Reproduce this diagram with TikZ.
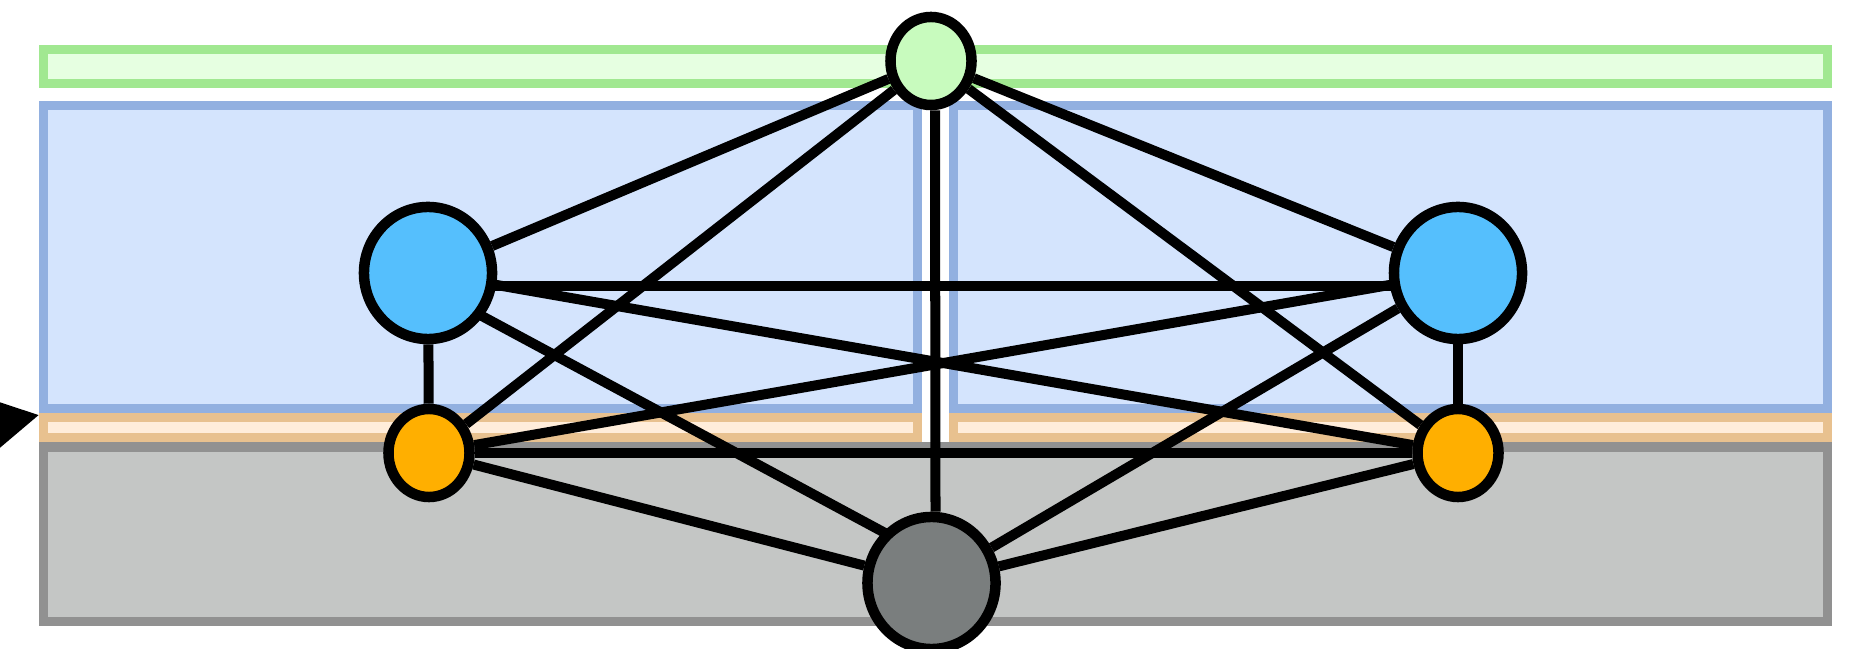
\documentclass[tikz,border=0pt]{standalone}
\usetikzlibrary{arrows.meta, shapes.geometric, backgrounds, calc}
\definecolor{greenline}{HTML}{A1E891}
\definecolor{greenfill}{HTML}{E6FFE1}
\definecolor{blueline}{HTML}{92B0E0}
\definecolor{bluefill}{HTML}{D4E4FD}
\definecolor{orangeline}{HTML}{E8C18F}
\definecolor{orangefill}{HTML}{FFEDDA}
\definecolor{greyline}{HTML}{919191}
\definecolor{greyfill}{HTML}{C4C6C5}
\definecolor{topnode}{HTML}{C8FBBE}
\definecolor{midnode}{HTML}{55BFFD}
\definecolor{lownode}{HTML}{FFAF00}
\definecolor{basenode}{HTML}{7A7E7E}
\pgfdeclarelayer{wires}
\pgfsetlayers{background,wires,main}
\tikzset{
  band/.style      = {line width=0.09cm},
  greenband/.style = {band, draw=greenline, fill=greenfill},
  blueband/.style  = {band, draw=blueline, fill=bluefill},
  orangeband/.style= {band, draw=orangeline, fill=orangefill},
  greyband/.style  = {band, draw=greyline, fill=greyfill},
  vertex/.style    = {ellipse, draw=black, line width=0.105cm, inner sep=0pt},
  bigv/.style      = {vertex, minimum width=1.28cm, minimum height=1.32cm},
  smallv/.style    = {vertex, minimum width=0.81cm, minimum height=0.88cm},
  wire/.style      = {line width=0.1cm, draw=black},
  inflow/.style    = {line width=0.1cm, -{Triangle[length=0.6cm, width=0.64cm]}},
}

\begin{document}
\begin{tikzpicture}[x=0.01cm, y=-0.01cm]
\useasboundingbox (0,0) rectangle (1864,649);

% Nodes: top, two middle, two lower, base
\node (top)  [smallv, fill=topnode]  at (931,61)    {};
\node (midl) [bigv, fill=midnode]    at (428,273)   {};
\node (midr) [bigv, fill=midnode]    at (1458,273)  {};
\node (lowl) [smallv, fill=lownode]  at (429,453)   {};
\node (lowr) [smallv, fill=lownode]  at (1458,453)  {};
\node (base) [bigv, fill=basenode]   at (931.5,583) {};

% Bands behind everything
\begin{pgfonlayer}{background}
  \draw [greenband]  (43.5,49.5) rectangle (1827.5,84);
  \draw [blueband]   (43.5,106) rectangle (917.5,408.5);
  \draw [blueband]   (953.5,106) rectangle (1827.5,408.5);
  \draw [orangeband] (43.5,417.5) rectangle (917.5,438);
  \draw [orangeband] (953.5,417.5) rectangle (1827.5,438);
  \draw [greyband]   (43.5,447) rectangle (1827.5,621.5);
\end{pgfonlayer}

% Connectors
\begin{pgfonlayer}{wires}
  \draw [wire] (top) -- (midl);
  \draw [wire] (top) -- (lowl);
  \draw [wire] ($(top.south)+(4,0)$) -- ($(base.north)+(4,0)$);
  \draw [wire] (top) -- (lowr);
  \draw [wire] (top) -- (midr);
  \draw [wire] ($(midl.center)+(0,13)$) -- ($(midr.center)+(0,13)$);
  \draw [wire] (midl) -- (lowr);
  \draw [wire] (midr) -- (lowl);
  \draw [wire] ($(midl.center)+(0,14)$) -- ($(base.center)+(0,-25)$);
  \draw [wire] (midr) -- (base);
  \draw [wire] (midl) -- (lowl);
  \draw [wire] (midr) -- (lowr);
  \draw [wire] (lowl) -- (lowr);
  \draw [wire] (lowl) -- (base);
  \draw [wire] (lowr) -- (base);
\end{pgfonlayer}

% Incoming arrow at the left edge
\coordinate (src) at (-59,434);
\coordinate (edge) at (39,415);
\draw [inflow] (src) -- (edge);

\end{tikzpicture}
\end{document}
